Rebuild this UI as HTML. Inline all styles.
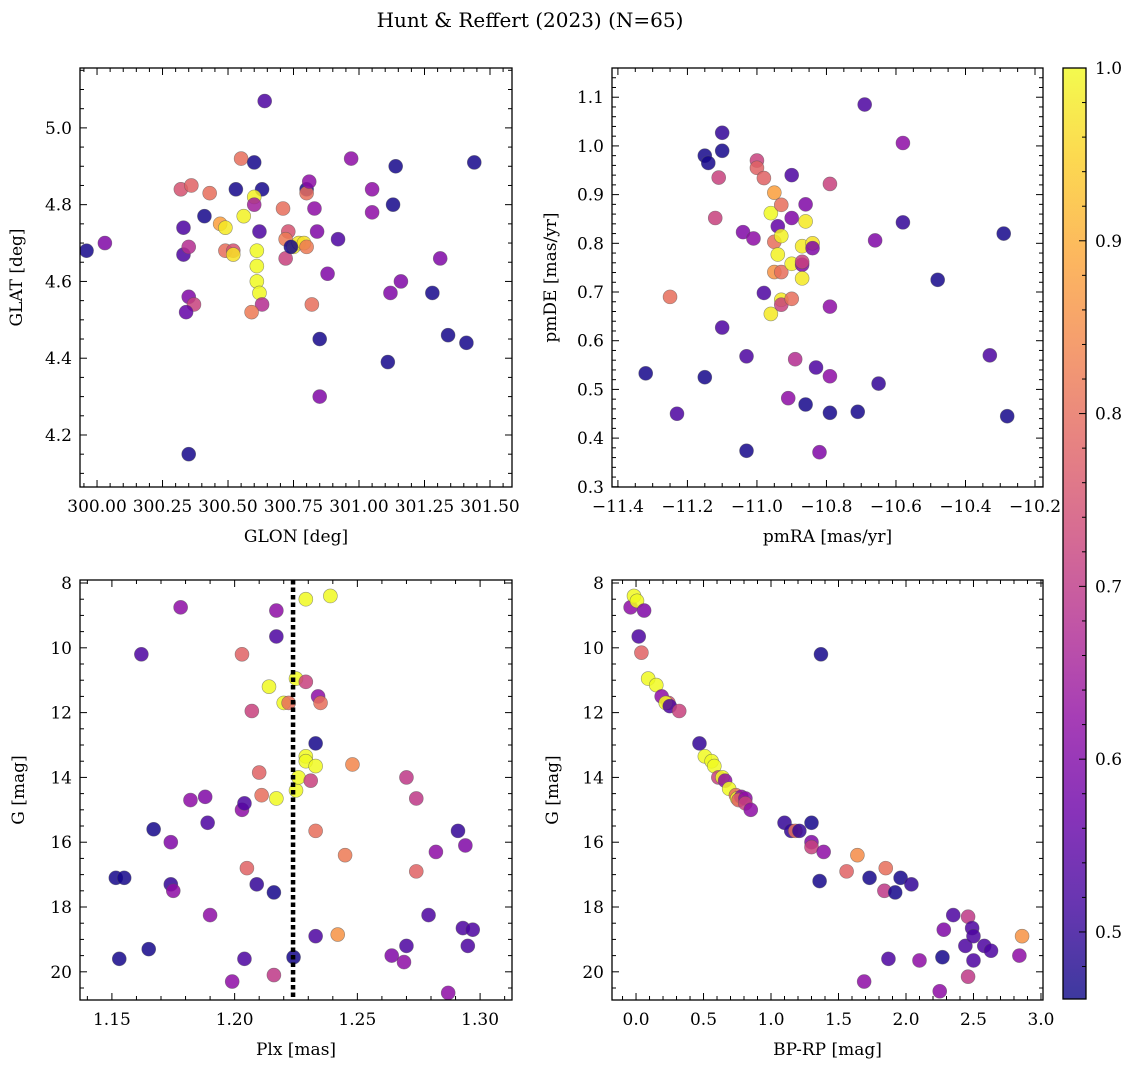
<!DOCTYPE html>
<html><head><meta charset="utf-8">
<style>
html,body{margin:0;padding:0;background:#fff;}
svg{display:block;font-family:"DejaVu Serif","Liberation Serif",serif;}
</style></head>
<body>
<svg id="fig" width="1136" height="1067" viewBox="0 0 1136 1067" xmlns="http://www.w3.org/2000/svg">
<defs>
<linearGradient id="plasma" x1="0" y1="1" x2="0" y2="0">
<stop offset="0" stop-color="#0d0887"/><stop offset="0.1" stop-color="#41049d"/><stop offset="0.2" stop-color="#6a00a8"/><stop offset="0.3" stop-color="#8f0da4"/><stop offset="0.4" stop-color="#b12a90"/><stop offset="0.5" stop-color="#cc4778"/><stop offset="0.6" stop-color="#e16462"/><stop offset="0.7" stop-color="#f2844b"/><stop offset="0.8" stop-color="#fca636"/><stop offset="0.9" stop-color="#fcce25"/><stop offset="1" stop-color="#f0f921"/>
</linearGradient>
</defs>
<text x="530" y="27" text-anchor="middle" font-size="20">Hunt &amp; Reffert (2023) (N=65)</text>
</svg>
<script>
// Panel 1: GLON vs GLAT
const p1Glon=[299.96,300.03,300.32,300.36,300.43,300.41,300.33,300.33,300.35,300.35,300.37,300.34,300.35,300.53,300.55,300.60,300.64,300.63,300.47,300.49,300.49,300.52,300.52,300.56,300.60,300.60,300.62,300.61,300.61,300.61,300.62,300.63,300.59,300.71,300.73,300.72,300.72,300.75,300.77,300.79,300.80,300.74,300.80,300.80,300.81,300.83,300.84,300.82,300.85,300.85,300.88,300.92,300.97,301.05,301.05,301.13,301.14,301.16,301.12,301.11,301.28,301.31,301.34,301.41,301.44];
const p1Glat=[4.68,4.70,4.84,4.85,4.83,4.77,4.74,4.67,4.69,4.56,4.54,4.52,4.15,4.84,4.92,4.91,5.07,4.84,4.75,4.74,4.68,4.68,4.67,4.77,4.82,4.80,4.73,4.68,4.64,4.60,4.57,4.54,4.52,4.79,4.73,4.71,4.66,4.69,4.70,4.70,4.69,4.69,4.84,4.83,4.86,4.79,4.73,4.54,4.45,4.30,4.62,4.71,4.92,4.84,4.78,4.80,4.90,4.60,4.57,4.39,4.57,4.66,4.46,4.44,4.91];
const p1Prob=[0.47,0.6,0.75,0.78,0.8,0.47,0.53,0.53,0.68,0.6,0.72,0.56,0.47,0.47,0.8,0.47,0.53,0.47,0.88,0.98,0.8,0.75,0.97,0.99,0.99,0.65,0.53,1.0,1.0,1.0,1.0,0.68,0.82,0.8,0.75,0.82,0.72,0.99,0.98,0.97,0.82,0.47,0.47,0.8,0.62,0.62,0.6,0.8,0.47,0.6,0.6,0.53,0.62,0.62,0.62,0.47,0.47,0.6,0.6,0.47,0.47,0.6,0.47,0.47,0.47];
// Panel 2: pmRA vs pmDE
const p2Pmra=[-11.32,-11.23,-11.25,-11.15,-11.14,-11.15,-11.12,-11.11,-11.10,-11.10,-11.10,-11.04,-11.03,-11.03,-11.01,-11.00,-11.00,-10.98,-10.98,-10.96,-10.96,-10.95,-10.95,-10.95,-10.94,-10.94,-10.93,-10.93,-10.93,-10.93,-10.93,-10.91,-10.90,-10.90,-10.90,-10.90,-10.89,-10.87,-10.87,-10.87,-10.87,-10.86,-10.86,-10.86,-10.84,-10.84,-10.83,-10.82,-10.79,-10.79,-10.79,-10.79,-10.71,-10.69,-10.66,-10.65,-10.58,-10.58,-10.48,-10.33,-10.29,-10.28];
const p2Pmde=[0.533,0.45,0.69,0.98,0.965,0.525,0.852,0.935,1.027,0.99,0.627,0.823,0.568,0.374,0.81,0.97,0.955,0.934,0.698,0.862,0.655,0.803,0.741,0.904,0.835,0.777,0.815,0.741,0.684,0.674,0.879,0.482,0.94,0.852,0.758,0.686,0.562,0.794,0.756,0.762,0.728,0.88,0.845,0.469,0.8,0.79,0.545,0.371,0.527,0.67,0.922,0.452,0.454,1.085,0.806,0.512,0.843,1.006,0.725,0.57,0.82,0.445];
const p2Prob=[0.47,0.53,0.8,0.47,0.47,0.47,0.72,0.72,0.5,0.47,0.53,0.6,0.53,0.47,0.62,0.72,0.78,0.78,0.53,1.0,0.98,0.8,0.86,0.88,0.56,0.99,0.99,0.8,0.98,0.72,0.8,0.62,0.53,0.6,0.99,0.8,0.68,0.98,0.6,0.72,0.98,0.6,0.98,0.47,0.97,0.6,0.53,0.6,0.62,0.62,0.72,0.47,0.47,0.53,0.6,0.5,0.5,0.62,0.47,0.53,0.47,0.47];
// Panel 3: Plx vs G
const p3Plx=[1.1516,1.155,1.153,1.162,1.165,1.167,1.174,1.175,1.174,1.178,1.182,1.188,1.189,1.190,1.199,1.203,1.203,1.204,1.204,1.205,1.207,1.209,1.210,1.211,1.214,1.216,1.217,1.217,1.216,1.217,1.220,1.222,1.224,1.225,1.225,1.226,1.229,1.229,1.229,1.229,1.231,1.233,1.233,1.234,1.235,1.233,1.233,1.239,1.242,1.245,1.248,1.270,1.274,1.274,1.264,1.269,1.270,1.279,1.282,1.287,1.291,1.293,1.295,1.294,1.297];
const p3G=[17.1,17.1,19.6,10.2,19.3,15.6,17.3,17.5,16.0,8.75,14.7,14.6,15.4,18.25,20.3,10.2,15.0,19.6,14.8,16.8,11.95,17.3,13.85,14.55,11.2,20.1,8.85,9.65,17.55,14.65,11.7,11.7,19.55,10.95,14.4,14.0,11.05,8.5,13.35,13.5,14.1,13.65,12.95,11.5,11.7,15.65,18.9,8.4,18.85,16.4,13.6,14.0,14.65,16.9,19.5,19.7,19.2,18.25,16.3,20.65,15.65,18.65,19.2,16.1,18.7];
const p3Prob=[0.47,0.47,0.47,0.53,0.47,0.47,0.5,0.62,0.6,0.62,0.62,0.6,0.53,0.62,0.62,0.78,0.62,0.53,0.53,0.78,0.72,0.5,0.78,0.8,1.0,0.7,0.62,0.53,0.47,1.0,1.0,0.8,0.47,1.0,1.0,1.0,0.72,1.0,1.0,1.0,0.72,1.0,0.47,0.62,0.8,0.8,0.53,1.0,0.86,0.82,0.84,0.7,0.7,0.78,0.6,0.62,0.53,0.53,0.62,0.62,0.5,0.53,0.53,0.6,0.53];
const plxMean=1.2238;
// Panel 4: BP-RP vs G
const p4Bprp=[-0.04,-0.015,0.007,0.06,0.02,0.04,0.09,0.15,0.19,0.24,0.22,0.25,0.32,0.47,0.51,0.56,0.58,0.61,0.64,0.66,0.69,0.74,0.75,0.78,0.76,0.81,0.81,0.85,1.10,1.15,1.18,1.21,1.30,1.30,1.30,1.37,1.36,1.39,1.56,1.64,1.69,1.73,1.84,1.85,1.87,1.92,1.96,2.04,2.10,2.25,2.27,2.28,2.35,2.44,2.46,2.46,2.49,2.50,2.50,2.58,2.63,2.84,2.86];
const p4G=[8.75,8.4,8.55,8.85,9.65,10.15,10.95,11.15,11.5,11.7,11.7,11.8,11.95,12.95,13.35,13.5,13.65,14.0,14.0,14.1,14.35,14.55,14.65,14.6,14.7,14.65,14.8,15.0,15.4,15.65,15.65,15.65,16.0,16.15,15.4,10.2,17.2,16.3,16.9,16.4,20.3,17.1,17.5,16.8,19.6,17.55,17.1,17.3,19.65,20.6,19.55,18.7,18.25,19.2,20.15,18.3,18.65,18.9,19.65,19.2,19.35,19.5,18.9];
const p4Prob=[0.62,1.0,1.0,0.6,0.53,0.78,1.0,1.0,0.62,0.75,1.0,0.53,0.72,0.5,1.0,1.0,1.0,0.72,1.0,0.62,1.0,0.8,1.0,0.62,0.78,0.62,0.72,0.62,0.5,0.5,0.8,0.5,0.6,0.72,0.47,0.47,0.47,0.62,0.78,0.85,0.62,0.47,0.7,0.8,0.53,0.47,0.47,0.5,0.62,0.62,0.47,0.6,0.53,0.53,0.7,0.7,0.53,0.53,0.53,0.53,0.53,0.62,0.86];
const cbTicks=[0.5,0.6,0.7,0.8,0.9,1.0];

const NS='http://www.w3.org/2000/svg';
const svg=document.getElementById('fig');
const VMIN=0.4612, VMAX=1.0;
const stops=[[13,8,135],[65,4,157],[106,0,168],[143,13,164],[177,42,144],[204,71,120],[225,100,98],[242,132,75],[252,166,54],[252,206,37],[240,249,33]];
function plasma(v){let t=(v-VMIN)/(VMAX-VMIN);t=Math.max(0,Math.min(1,t))*10;const i=Math.min(9,Math.floor(t)),f=t-i;const a=stops[i],b=stops[i+1];return 'rgb('+[0,1,2].map(k=>Math.round(a[k]+(b[k]-a[k])*f)).join(',')+')';}
function el(tag,attrs,parent){const e=document.createElementNS(NS,tag);for(const k in attrs)e.setAttribute(k,attrs[k]);(parent||svg).appendChild(e);return e;}
function fmtMinus(s){return s.replace('-','\u2212');}

function axes(o){
  const g=el('g',{});
  
  
  const sx=v=>o.x0+(v-o.xmin)/(o.xmax-o.xmin)*(o.x1-o.x0);
  const sy=o.yinv? (v=>o.y0+(v-o.ymin)/(o.ymax-o.ymin)*(o.y1-o.y0)) : (v=>o.y1-(v-o.ymin)/(o.ymax-o.ymin)*(o.y1-o.y0));
  const tg=el('g',{stroke:'#000','stroke-width':1},g);
  const lo=Math.min(o.xmin,o.xmax),hi=Math.max(o.xmin,o.xmax);
  for(let v=Math.ceil(lo/o.xminor-1e-6)*o.xminor;v<=hi+1e-9;v+=o.xminor){const X=sx(v);const maj=Math.abs(v/o.xmajor-Math.round(v/o.xmajor))<1e-4;const L=maj?7:4;
    el('line',{x1:X,x2:X,y1:o.y1,y2:o.y1-L},tg);el('line',{x1:X,x2:X,y1:o.y0,y2:o.y0+L},tg);}
  const ylo=Math.min(o.ymin,o.ymax),yhi=Math.max(o.ymin,o.ymax);
  for(let v=Math.ceil(ylo/o.yminor-1e-6)*o.yminor;v<=yhi+1e-9;v+=o.yminor){const Y=sy(v);const maj=Math.abs(v/o.ymajor-Math.round(v/o.ymajor))<1e-4;const L=maj?7:4;
    el('line',{x1:o.x0,x2:o.x0+L,y1:Y,y2:Y},tg);el('line',{x1:o.x1,x2:o.x1-L,y1:Y,y2:Y},tg);}
  o.xticks.forEach(v=>{const t=el('text',{x:sx(v),y:o.y1+25,'text-anchor':'middle','font-size':17},g);t.textContent=fmtMinus(v.toFixed(o.xdec));
    
    });
  o.yticks.forEach(v=>{const t=el('text',{x:o.x0-8,y:sy(v)+6,'text-anchor':'end','font-size':17},g);t.textContent=fmtMinus(v.toFixed(o.ydec));
    
    });
  const xl=el('text',{x:(o.x0+o.x1)/2,y:o.y1+55,'text-anchor':'middle','font-size':17},g);xl.textContent=o.xlabel;
  
  
  const yx=o.ylx, yy=(o.y0+o.y1)/2;
  const yl=el('text',{x:yx,y:yy,'text-anchor':'middle','font-size':17,transform:'rotate(-90 '+yx+' '+yy+')'},g);yl.textContent=o.ylabel;
  
  
  const pg=el('g',{},g);
  
  
  const cp='clip'+o.name;
  const cpe=el('clipPath',{id:cp},g);el('rect',{x:o.x0,y:o.y0,width:o.x1-o.x0,height:o.y1-o.y0},cpe);
  pg.setAttribute('clip-path','url(#'+cp+')');
  o.xs.forEach((_,i)=>{const c=el('circle',{cx:sx(o.xs[i]),cy:sy(o.ys[i]),r:7,fill:plasma(o.cs[i]),'fill-opacity':0.85,stroke:'#555','stroke-opacity':0.6,'stroke-width':0.6},pg);
    
    });
  if(o.extra)o.extra(g,sx,sy);
  const fr=el('rect',{x:o.x0,y:o.y0,width:o.x1-o.x0,height:o.y1-o.y0,fill:'none',stroke:'#000','stroke-width':1.3},g);
  
  
}

axes({name:'glon-glat-panel',x0:80,x1:512,y0:68,y1:487,xmin:299.935,xmax:301.584,ymin:4.0645,ymax:5.156,
  xmajor:0.25,xminor:0.05,ymajor:0.2,yminor:0.05,xticks:[300,300.25,300.5,300.75,301,301.25,301.5],xdec:2,yticks:[4.2,4.4,4.6,4.8,5.0],ydec:1,
  xlabel:'GLON [deg]',ylabel:'GLAT [deg]',ylx:22,xs:p1Glon,ys:p1Glat,cs:p1Prob});
axes({name:'pm-panel',x0:612,x1:1043,y0:68,y1:487,xmin:-11.417,xmax:-10.177,ymin:0.2996,ymax:1.16,
  xmajor:0.2,xminor:0.05,ymajor:0.1,yminor:0.02,xticks:[-11.4,-11.2,-11.0,-10.8,-10.6,-10.4,-10.2],xdec:1,yticks:[0.3,0.4,0.5,0.6,0.7,0.8,0.9,1.0,1.1],ydec:1,
  xlabel:'pmRA [mas/yr]',ylabel:'pmDE [mas/yr]',ylx:556,xs:p2Pmra,ys:p2Pmde,cs:p2Prob});
axes({name:'plx-g-panel',x0:80,x1:512,y0:580,y1:1000,xmin:1.137,xmax:1.313,ymin:7.907,ymax:20.87,yinv:true,
  xmajor:0.05,xminor:0.01,ymajor:2,yminor:0.5,xticks:[1.15,1.2,1.25,1.3],xdec:2,yticks:[8,10,12,14,16,18,20],ydec:0,
  xlabel:'Plx [mas]',ylabel:'G [mag]',ylx:24,xs:p3Plx,ys:p3G,cs:p3Prob,
  extra:(g,sx,sy)=>{const l=el('line',{x1:sx(plxMean),x2:sx(plxMean),y1:580,y2:1000,stroke:'#000','stroke-width':4.5,'stroke-dasharray':'4.5,3'},g);
    
    }});
axes({name:'cmd-panel',x0:612,x1:1043,y0:580,y1:1000,xmin:-0.178,xmax:3.015,ymin:7.907,ymax:20.87,yinv:true,
  xmajor:0.5,xminor:0.1,ymajor:2,yminor:0.5,xticks:[0,0.5,1,1.5,2,2.5,3],xdec:1,yticks:[8,10,12,14,16,18,20],ydec:0,
  xlabel:'BP-RP [mag]',ylabel:'G [mag]',ylx:558,xs:p4Bprp,ys:p4G,cs:p4Prob});

const cb=el('g',{});


const cy0=68,cy1=999,cx0=1063,cx1=1086;
el('rect',{x:cx0,y:cy0,width:cx1-cx0,height:cy1-cy0,fill:'url(#plasma)','fill-opacity':0.8},cb);
const csy=v=>cy1-(v-VMIN)/(VMAX-VMIN)*(cy1-cy0);
for(let v=0.48;v<=1.0001;v+=0.02){const Y=csy(v);const maj=Math.abs(v*10-Math.round(v*10))<1e-3;el('line',{x1:cx1,x2:cx1-(maj?7:4),y1:Y,y2:Y,stroke:'#000','stroke-width':1},cb);}
cbTicks.forEach(v=>{const t=el('text',{x:cx1+9,y:csy(v)+6,'font-size':17},cb);t.textContent=v.toFixed(1);
  
  });
el('rect',{x:cx0,y:cy0,width:cx1-cx0,height:cy1-cy0,fill:'none',stroke:'#000','stroke-width':1.3},cb);
</script>
</body></html>
